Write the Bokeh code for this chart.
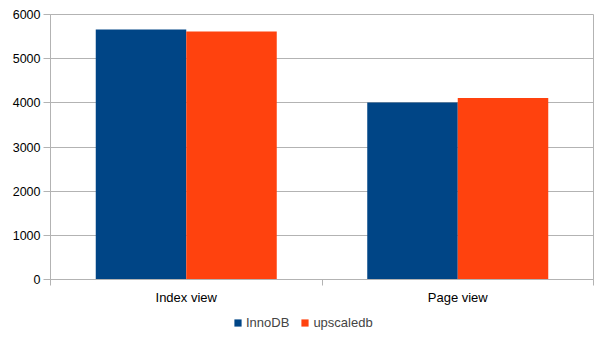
import numpy as np
from bokeh.plotting import figure
from bokeh.layouts import column
from bokeh.models import ColumnDataSource, FixedTicker, Legend, LegendItem, Range1d
from bokeh.embed import file_html
from bokeh.resources import INLINE

categories = ["Index view", "Page view"]
series = ["InnoDB", "upscaledb"]
innodb = [5660, 4005]
upscaledb = [5615, 4110]
y_ticks = [0, 1000, 2000, 3000, 4000, 5000, 6000]

GRID = "#b3b3b3"
FONT = "Liberation Sans"
COLORS = ["#004586", "#ff420e"]

x = np.arange(len(categories)) + 0.5
src = ColumnDataSource(dict(x1=x - 1/6, x2=x + 1/6, innodb=innodb, upscaledb=upscaledb))

p = figure(width=605, height=310, output_backend="svg", toolbar_location=None,
           x_range=Range1d(0, len(categories)), y_range=Range1d(0, 6000),
           min_border_left=50, min_border_right=12, min_border_top=14, min_border_bottom=31)

p.vbar(x="x1", top="innodb", width=1/3, source=src, fill_color=COLORS[0], line_color=None)
p.vbar(x="x2", top="upscaledb", width=1/3, source=src, fill_color=COLORS[1], line_color=None)

p.outline_line_color = GRID
p.xgrid.grid_line_color = None
p.ygrid.grid_line_color = GRID
p.ygrid.ticker = FixedTicker(ticks=y_ticks)

p.yaxis.ticker = FixedTicker(ticks=y_ticks)
p.yaxis.axis_line_color = GRID
p.yaxis.major_tick_line_color = GRID
p.yaxis.major_tick_out = 7
p.yaxis.major_tick_in = 0
p.yaxis.minor_tick_line_color = None
p.yaxis.major_label_standoff = 3
p.yaxis.major_label_text_font = FONT
p.yaxis.major_label_text_font_size = "12.5px"
p.yaxis.major_label_text_color = "#000000"

p.xaxis.ticker = FixedTicker(ticks=list(x), minor_ticks=list(range(len(categories) + 1)))
p.xaxis.major_label_overrides = {float(v): c for v, c in zip(x, categories)}
p.xaxis.axis_line_color = GRID
p.xaxis.major_tick_line_color = None
p.xaxis.major_tick_out = 6
p.xaxis.major_tick_in = 0
p.xaxis.minor_tick_line_color = GRID
p.xaxis.minor_tick_out = 6
p.xaxis.minor_tick_in = 0
p.xaxis.major_label_standoff = 4
p.xaxis.major_label_text_font = FONT
p.xaxis.major_label_text_font_size = "13px"
p.xaxis.major_label_text_color = "#000000"

# legend strip below the chart
lf = figure(width=605, height=30, output_backend="svg", toolbar_location=None,
            x_range=Range1d(0, 1), y_range=Range1d(0, 1),
            min_border=0, min_border_left=0, min_border_right=0,
            min_border_top=0, min_border_bottom=0)
lf.axis.visible = False
lf.grid.visible = False
lf.outline_line_color = None
items = []
for name, col in zip(series, COLORS):
    r = lf.vbar(x=[-1], top=[0], width=0.1, fill_color=col, line_color=None)
    items.append(LegendItem(label=name, renderers=[r]))

legend = Legend(items=items, orientation="horizontal", location=(183, 10),
                glyph_width=9, glyph_height=9, label_standoff=4, spacing=11,
                label_text_font=FONT, label_text_font_size="13px",
                border_line_color=None, background_fill_alpha=0,
                padding=0, margin=0)
lf.add_layout(legend, "center")

layout = column(p, lf, spacing=0)
open("out.html", "w").write(file_html(layout, INLINE))
